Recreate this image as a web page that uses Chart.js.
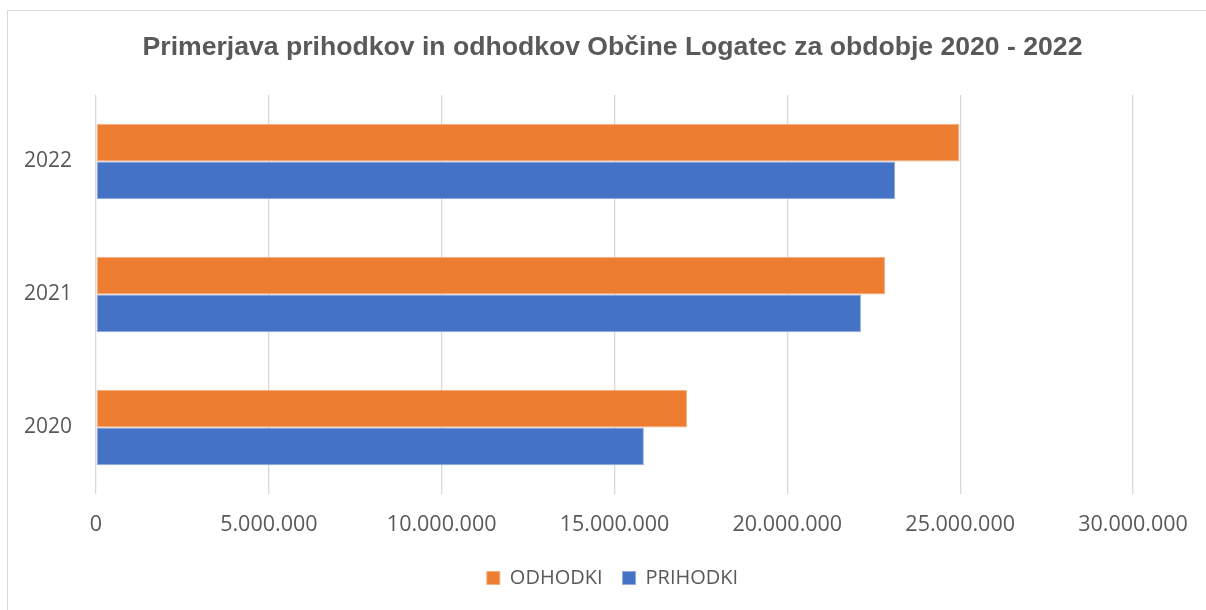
<!DOCTYPE html>
<html>
<head>
<meta charset="utf-8">
<script src="https://cdn.jsdelivr.net/npm/chart.js@4"></script>
<style>
  html, body { margin: 0; padding: 0; background: #fff; overflow: hidden; }
  #frame { position: absolute; left: 7px; top: 10px; width: 1230px; height: 640px; border: 1px solid #d9d9d9; }
  #wrap { position: absolute; left: 0; top: 0; width: 1206px; height: 610px; }
</style>
</head>
<body>
<div id="frame"></div>
<div id="wrap"><canvas id="chart"></canvas></div>
<script>
// podatki odčitani s slike
const years = ['2022', '2021', '2020'];
const odhodki = [24980000, 22830000, 17100000];
const prihodki = [23120000, 22130000, 15850000];
const xTicks = [0, 5000000, 10000000, 15000000, 20000000, 25000000, 30000000];

const grey = '#595959';

function formatNum(v) {
  return String(v).replace(/\B(?=(\d{3})+(?!\d))/g, '.');
}

const ctx = document.getElementById('chart').getContext('2d');

new Chart(ctx, {
  type: 'bar',
  data: {
    labels: years,
    datasets: [
      {
        label: 'ODHODKI',
        data: odhodki,
        backgroundColor: '#ED7D31',
        borderColor: '#F4B183',
        borderWidth: 1,
        borderSkipped: false,
        categoryPercentage: 0.567,
        barPercentage: 1.0
      },
      {
        label: 'PRIHODKI',
        data: prihodki,
        backgroundColor: '#4472C4',
        borderColor: '#8FAADC',
        borderWidth: 1,
        borderSkipped: false,
        categoryPercentage: 0.567,
        barPercentage: 1.0
      }
    ]
  },
  options: {
    indexAxis: 'y',
    responsive: true,
    maintainAspectRatio: false,
    animation: false,
    layout: { padding: { left: 19, right: 0, top: 0, bottom: 12 } },
    plugins: {
      title: {
        display: true,
        text: 'Primerjava prihodkov in odhodkov Občine Logatec za obdobje 2020 - 2022',
        color: grey,
        font: { family: '"Liberation Sans", Arial, sans-serif', size: 26.6, weight: 'bold' },
        padding: { top: 32, bottom: 31 }
      },
      legend: {
        position: 'bottom',
        labels: {
          color: grey,
          font: { family: '"Open Sans", sans-serif', size: 20 },
          boxWidth: 13,
          boxHeight: 13,
          padding: 20
        }
      },
      tooltip: { enabled: false }
    },
    scales: {
      x: {
        min: 0,
        max: 30000000,
        afterBuildTicks: (scale) => { scale.ticks = xTicks.map(v => ({ value: v })); },
        ticks: {
          color: grey,
          font: { family: '"Open Sans", sans-serif', size: 21.5 },
          padding: 18,
          maxRotation: 0,
          callback: (value) => formatNum(value)
        },
        grid: { color: '#d9d9d9', lineWidth: 1.3, drawTicks: false },
        border: { display: false },
        afterFit: (scale) => { scale.height = 54; }
      },
      y: {
        ticks: {
          color: grey,
          font: { family: '"Open Sans", sans-serif', size: 21 },
          padding: 24
        },
        grid: { display: false, drawTicks: false },
        border: { display: false },
        afterFit: (scale) => { scale.width = 77; }
      },
      // prazen desni prostor, da naslov in legenda ostaneta na sredini
      yRight: {
        type: 'category',
        position: 'right',
        ticks: { display: false },
        grid: { display: false, drawTicks: false },
        border: { display: false },
        afterFit: (scale) => { scale.width = 73; }
      }
    }
  }
});
</script>
</body>
</html>
